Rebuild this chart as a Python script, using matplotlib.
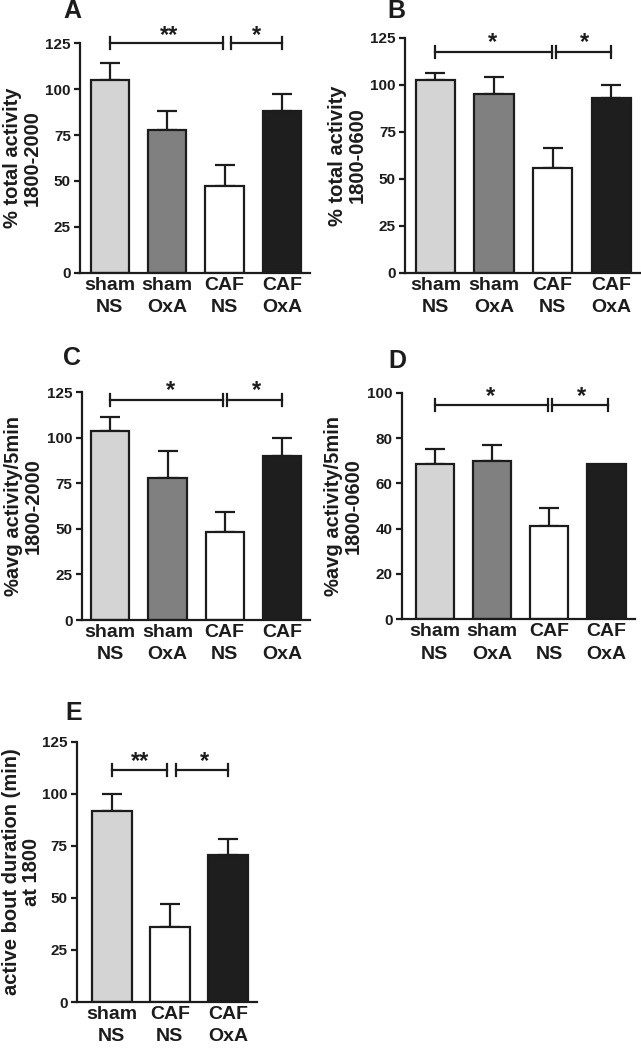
import matplotlib
matplotlib.use('Agg')
import matplotlib.pyplot as plt
import numpy as np

plt.rcParams['font.family'] = ['Liberation Sans', 'DejaVu Sans']
plt.rcParams['font.weight'] = 'bold'

# ---- data ----
groups4 = ['sham\nNS', 'sham\nOxA', 'CAF\nNS', 'CAF\nOxA']
groups3 = ['sham\nNS', 'CAF\nNS', 'CAF\nOxA']

a_mean = [105, 77.5, 47, 88]
a_sem = [9, 10.5, 11.5, 9.5]
b_mean = [102.5, 95, 56, 93]
b_sem = [4, 9.5, 10.5, 7]
c_mean = [104, 78, 48.5, 90]
c_sem = [7.5, 15, 11, 10]
d_mean = [68.5, 70, 41, 68.5]
d_sem = [6.5, 7, 8, 0]
e_mean = [91.5, 36, 70.5]
e_sem = [8.5, 11, 8]

ylabel_a = '% total activity\n1800-2000'
ylabel_b = '% total activity\n1800-0600'
ylabel_c = '%avg activity/5min\n1800-2000'
ylabel_d = '%avg activity/5min\n1800-0600'
ylabel_e = 'active bout duration (min)\nat 1800'

fill4 = ['#d4d4d4', '#808080', '#ffffff', '#1e1e1e']
fill3 = ['#d4d4d4', '#ffffff', '#1e1e1e']
INK = '#1c1c1c'

W, H = 641, 1048


def px_axes(fig, left, right, top, bottom):
    """axes from pixel edges"""
    return fig.add_axes([left / W, 1 - bottom / H, (right - left) / W, (bottom - top) / H])


def bar_panel(ax, labels, means, sems, colors, ymax, yticks, ylabel, xlim, width=0.67, lpad=3):
    x = np.arange(len(means))
    ax.bar(x, means, width=width, color=colors, edgecolor=INK, linewidth=1.6, zorder=2)
    up = np.array(sems, dtype=float)
    keep = up > 0
    ax.errorbar(x[keep], np.array(means)[keep], yerr=[np.zeros(keep.sum()), up[keep]],
                fmt='none', ecolor=INK, elinewidth=1.6, capsize=7, capthick=1.6, zorder=1)
    ax.set_xlim(*xlim)
    ax.set_ylim(0, ymax)
    ax.set_yticks(yticks)
    ax.set_xticks(x)
    ax.set_xticklabels(labels, fontsize=14, fontweight='bold', color=INK, linespacing=1.4)
    ax.tick_params(axis='x', length=0, pad=3)
    ax.tick_params(axis='y', length=4.5, width=1.6, color=INK, labelsize=11, labelcolor=INK, pad=2)
    for t in ax.get_yticklabels():
        t.set_fontweight('bold')
    for s in ['top', 'right']:
        ax.spines[s].set_visible(False)
    for s in ['left', 'bottom']:
        ax.spines[s].set_linewidth(1.6)
        ax.spines[s].set_color(INK)
    ax.set_ylabel(ylabel, fontsize=14.5, fontweight='bold', color=INK, linespacing=1.05, labelpad=lpad)


def bracket(ax, x0, x1, y, h):
    """significance bracket with end ticks"""
    ax.plot([x0, x1], [y, y], color=INK, lw=1.6, clip_on=False)
    for xx in (x0, x1):
        ax.plot([xx, xx], [y - h, y + h], color=INK, lw=1.6, clip_on=False)


def stars(ax, x, y, label):
    ax.text(x, y, label, ha='center', va='center', fontsize=17, fontweight='bold', color=INK)


fig = plt.figure(figsize=(W / 100, H / 100), dpi=100)
fig.patch.set_facecolor('white')

# ---- A ----
ax = px_axes(fig, 80, 310, 43.3, 272.7)
bar_panel(ax, groups4, a_mean, a_sem, fill4, 125, [0, 25, 50, 75, 100, 125], ylabel_a, (-0.52, 3.49))
bracket(ax, 0, 1.97, 125, 3.3)
bracket(ax, 2.11, 3.0, 125, 3.3)
stars(ax, 1.03, 129, '**')
stars(ax, 2.55, 129, '*')

# ---- B ----
ax = px_axes(fig, 405, 641, 38, 273)
bar_panel(ax, groups4, b_mean, b_sem, fill4, 125, [0, 25, 50, 75, 100, 125], ylabel_b, (-0.52, 3.51))
bracket(ax, 0, 1.99, 117.7, 3.2)
bracket(ax, 2.06, 3.0, 117.7, 3.2)
stars(ax, 0.98, 122.5, '*')
stars(ax, 2.55, 122.5, '*')

# ---- C ----
ax = px_axes(fig, 81.7, 310, 392.3, 620)
bar_panel(ax, groups4, c_mean, c_sem, fill4, 125, [0, 25, 50, 75, 100, 125], ylabel_c, (-0.5, 3.49))
bracket(ax, 0, 1.97, 121, 3.3)
bracket(ax, 2.04, 3.0, 121, 3.3)
stars(ax, 1.05, 126, '*')
stars(ax, 2.55, 126, '*')

# ---- D ----
ax = px_axes(fig, 401.7, 635, 392.7, 619.3)
bar_panel(ax, groups4, d_mean, d_sem, fill4, 100, [0, 20, 40, 60, 80, 100], ylabel_d, (-0.58, 3.5))
bracket(ax, 0, 1.98, 94.6, 2.7)
bracket(ax, 2.04, 3.02, 94.6, 2.7)
stars(ax, 0.98, 98.5, '*')
stars(ax, 2.57, 98.5, '*')

# ---- E ----
ax = px_axes(fig, 76.7, 257, 741.7, 1002)
bar_panel(ax, groups3, e_mean, e_sem, fill3, 125, [0, 25, 50, 75, 100, 125], ylabel_e, (-0.6, 2.5),
          width=0.69, lpad=1)
bracket(ax, 0, 0.96, 111.4, 2.9)
bracket(ax, 1.11, 2.0, 111.4, 2.9)
stars(ax, 0.49, 115.5, '**')
stars(ax, 1.59, 115.5, '*')

# ---- panel letters ----
for letter, px, py in [('A', 63, 18), ('B', 387, 18), ('C', 63, 365), ('D', 388, 368), ('E', 65, 720)]:
    fig.text(px / W, 1 - py / H, letter, fontsize=18, fontweight='bold', color=INK,
             ha='left', va='baseline')

fig.savefig('out.png', dpi=100, facecolor='white')
